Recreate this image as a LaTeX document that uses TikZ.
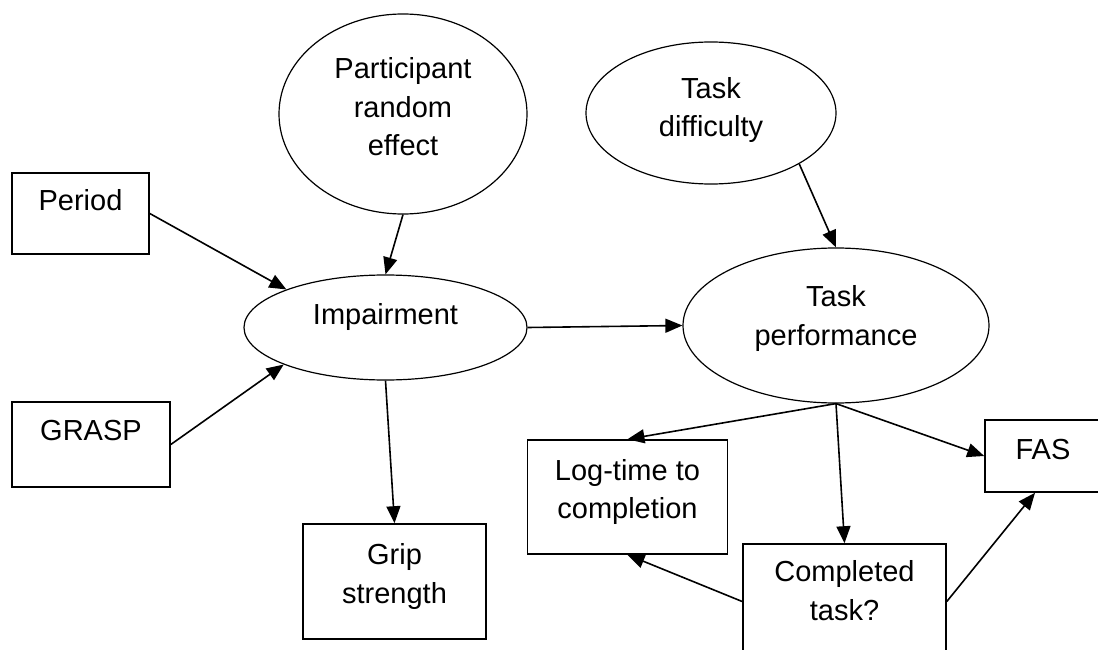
\documentclass[tikz,border=0pt]{standalone}
\usepackage{fontspec}
\setmainfont{Liberation Sans}
\usetikzlibrary{shapes,arrows.meta,positioning}

\begin{document}
\begin{tikzpicture}[
    x=1pt, y=-1pt,
    every node/.style={align=center, inner sep=0pt,
        font=\fontsize{29}{38.5}\selectfont},
    box/.style={rectangle, draw, line width=1.6pt},
    oval/.style={ellipse, draw, line width=1.2pt},
    arr/.style={draw, line width=1.6pt, -{Triangle[length=17pt,width=14pt]}}
]
\useasboundingbox (0,0) rectangle (1098,650);
\clip (0,0) rectangle (1098,650);

% inputs
\node[box, minimum width=137pt, minimum height=81pt, text height=22pt, text depth=29pt] (period) at (80.5,213.5) {Period};
\node[box, minimum width=158pt, minimum height=85pt, text height=22pt, text depth=31pt] (grasp) at (91,444.5) {GRASP};
\node[oval, minimum width=248pt, minimum height=200pt, text height=94pt, text depth=10pt] (participant) at (403,114) {Participant\\random\\effect};
\node[oval, minimum width=283pt, minimum height=105pt, text height=22pt, text depth=29pt] (impairment) at (385.5,327.5) {Impairment};
\node[box, minimum width=183pt, minimum height=115pt, text height=53pt, text depth=10pt] (grip) at (394.5,581.5) {Grip\\strength};

% task side
\node[oval, minimum width=250pt, minimum height=142pt, text height=58pt, text depth=10pt] (taskdiff) at (711,113) {Task\\difficulty};
\node[oval, minimum width=306pt, minimum height=155pt, text height=49pt, text depth=10pt] (taskperf) at (836,325.5) {Task\\performance};
\node[box, minimum width=200pt, minimum height=114pt, text height=53pt, text depth=10pt] (logtime) at (627.5,497) {Log-time to\\completion};
\node[box, minimum width=116pt, minimum height=72pt, text height=22pt, text depth=16pt] (fas) at (1043,456) {FAS};
\node[box, minimum width=203pt, minimum height=115pt, text height=47pt, text depth=10pt] (completed) at (844.5,601.5) {Completed\\task?};

\draw[arr] (period.east) -- (impairment.159);
\draw[arr] (grasp.east) -- (impairment.200);
\draw[arr] (participant.south) -- (impairment.north);
\draw[arr] (impairment.south) -- (grip.north);
\draw[arr] (impairment.east) -- (taskperf.west);
\draw[arr] (taskdiff.-30) -- (taskperf.north);
\draw[arr] (taskperf.south) -- (logtime.north);
\draw[arr] (taskperf.south) -- (completed.north);
\draw[arr] (taskperf.south) -- (fas.west);
\draw[arr] (completed.west) -- (logtime.south);
\draw[arr] (completed.east) -- ([xshift=-8pt]fas.south);
\end{tikzpicture}
\end{document}
